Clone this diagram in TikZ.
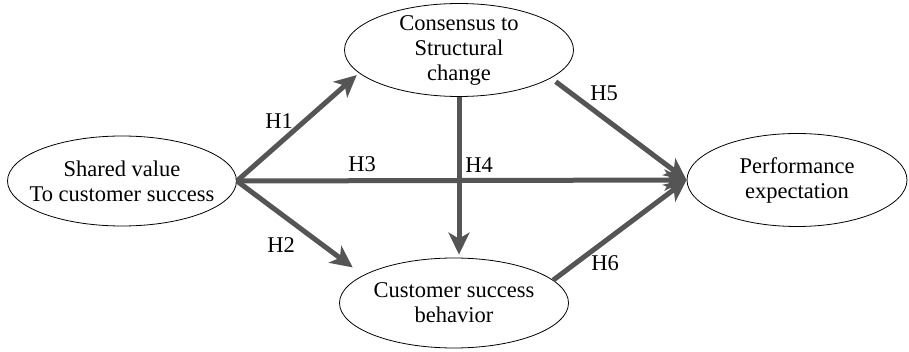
\documentclass[tikz,border=0pt]{standalone}
\usepackage{fontspec}
\setmainfont{Liberation Serif}
\usetikzlibrary{arrows.meta,shapes.geometric}
\definecolor{arr}{HTML}{555555}
\begin{document}
\begin{tikzpicture}[x=1pt,y=-1pt,
  ell/.style={draw=black,line width=0.8pt,ellipse,minimum width=#1,inner xsep=-40pt,inner ysep=-20pt,align=center,font=\fontsize{22.5}{25}\selectfont},
  ell/.default={229pt},
  link/.style={draw=arr,line width=5pt,-{Stealth[length=22pt,width=21pt,inset=6pt]}},
  lab/.style={font=\fontsize{22.5}{25}\selectfont,inner sep=0pt}]
\useasboundingbox (0,0) rectangle (909,352);
\node[ell, minimum height=90pt] (sv) at (122,181) {Shared value\\To customer success};
\node[ell, minimum height=93pt] (cs) at (459,50) {Consensus to\\Structural\\change};
\node[ell={220pt}, minimum height=93pt] (pe) at (797,180) {Performance\\expectation};
\node[ell, minimum height=90pt] (cb) at (454,303) {Customer success\\behavior};
\draw[link,shorten >=3pt] (sv.east) -- (cs.193);
\draw[link,shorten >=13pt] (sv.east) -- (cb.163);
\draw[link] (sv.east) -- (pe.west);
\draw[link,shorten >=3pt] (cs.south) -- (cs.south |- cb.north);
\draw[link,shorten <=6pt] (cs.-17) -- (pe.west);
\draw[link] (cb.13) -- (pe.west);
\node[lab] (h1) at (279,121) {H1};
\node[lab] (h2) at (281,245) {H2};
\node[lab] (h3) at (362,164) {H3};
\node[lab] (h4) at (479,165) {H4};
\node[lab] (h5) at (604,93) {H5};
\node[lab] (h6) at (605,263) {H6};
\end{tikzpicture}
\end{document}
